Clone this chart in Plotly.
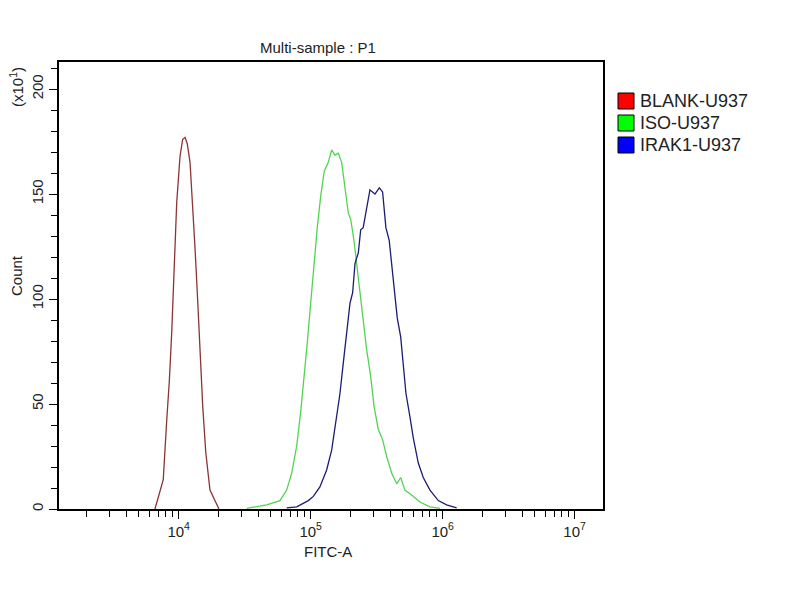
import numpy as np
import plotly.graph_objects as go

# histogram outlines: log10(FITC-A) and count (x10)
blank_log_fitc = [3.820, 3.883, 3.909, 3.929, 3.947, 3.959, 3.972, 3.985, 4.010, 4.030,
                  4.048, 4.065, 4.086, 4.106, 4.123, 4.141, 4.161, 4.182, 4.205, 4.237, 4.305]
blank_count = [0, 14, 42, 61, 84, 106, 127, 146, 168, 176,
               177, 174, 165, 146, 125, 103, 74, 49, 27, 9, 0]

iso_log_fitc = [4.515, 4.667, 4.767, 4.818, 4.856, 4.894, 4.924, 4.949, 4.974, 5.000,
                5.025, 5.050, 5.076, 5.103, 5.133, 5.159, 5.184, 5.209, 5.235, 5.260,
                5.285, 5.303, 5.328, 5.361, 5.394, 5.424, 5.455, 5.480, 5.512, 5.545,
                5.576, 5.614, 5.652, 5.682, 5.714, 5.765, 5.828, 5.904, 5.979]
iso_count = [0.3, 2, 4, 9, 17, 30, 46, 61, 79, 98,
             117, 134, 149, 161, 165, 171, 168.6, 169.5, 165, 153,
             141, 138, 128, 110, 91, 76, 63, 49, 38, 33,
             25, 17, 12, 15, 9, 6.7, 3.3, 1, 0.3]

irak1_log_fitc = [4.818, 4.894, 4.982, 5.020, 5.070, 5.121, 5.159, 5.192, 5.222, 5.247,
                  5.273, 5.298, 5.318, 5.336, 5.361, 5.379, 5.398, 5.424, 5.449, 5.487,
                  5.520, 5.545, 5.570, 5.595, 5.626, 5.656, 5.682, 5.702, 5.722, 5.752,
                  5.777, 5.815, 5.853, 5.904, 5.967, 6.030, 6.106]
irak1_count = [0.5, 1, 4, 6, 10.5, 18.6, 28, 41, 55, 69.5,
               85, 98, 103, 117, 122, 133, 134, 144, 152, 150,
               153, 151, 134, 128, 110, 91, 82, 69.5, 55, 44,
               34, 22, 15, 9, 4, 2, 0.5]

sample_names = ["BLANK-U937", "ISO-U937", "IRAK1-U937"]
line_colors = ["#8b3434", "#52d452", "#1c1c72"]
legend_colors = ["#ff0000", "#00ff00", "#0000ff"]

x_decades = [4, 5, 6, 7]

# plot box in screenshot pixels (page body adds an 8px offset)
L, R, T, B = 59, 603, 62, 509
OFF = 8


def px_x(px):
    return (px - L) / (R - L)


def px_y(py):
    return (B - py) / (B - T)


fig = go.Figure()

series = [(blank_log_fitc, blank_count), (iso_log_fitc, iso_count), (irak1_log_fitc, irak1_count)]
for (lx, cnt), name, col in zip(series, sample_names, line_colors):
    fig.add_trace(go.Scatter(x=10 ** np.array(lx), y=cnt, mode="lines", name=name,
                             line=dict(color=col, width=1.3), showlegend=False))

font = "Liberation Sans, Arial, sans-serif"

fig.update_layout(
    width=800, height=600,
    margin=dict(l=L - OFF, r=800 - R + OFF, t=T - OFF, b=600 - B + OFF),
    paper_bgcolor="white", plot_bgcolor="white",
    font=dict(family=font, size=15, color="#222"),
    showlegend=False,
)

minor_vals = [m * 10 ** d for d in [3, 4, 5, 6, 7] for m in range(2, 10)]

fig.update_xaxes(
    type="log", range=[3.093, 7.215],
    tickmode="array", tickvals=[10 ** d for d in x_decades],
    ticktext=[f"10<sup>{d}</sup>" for d in x_decades],
    ticks="outside", ticklen=8, tickwidth=1.2, tickcolor="black",
    minor=dict(tickmode="array", tickvals=minor_vals, ticks="outside", ticklen=6,
               tickwidth=1.2, tickcolor="black", showgrid=False),
    showline=True, mirror=True, linecolor="black", linewidth=1.5,
    showgrid=False, zeroline=False,
    tickfont=dict(size=15),
)

fig.update_yaxes(
    range=[0, 212.9],
    tickmode="array", tickvals=[0, 50, 100, 150, 200],
    ticks="outside", ticklen=8, tickwidth=1.2, tickcolor="black", tickangle=-90,
    minor=dict(tickmode="array", tickvals=list(range(10, 211, 10)), ticks="outside",
               ticklen=6, tickwidth=1.2, tickcolor="black", showgrid=False),
    showline=True, mirror=True, linecolor="black", linewidth=1.5,
    showgrid=False, zeroline=False,
    tickfont=dict(size=15),
)


def label(text, px, py, size=15, angle=0, xanchor="center"):
    fig.add_annotation(text=text, xref="paper", yref="paper", x=px_x(px), y=px_y(py),
                       xanchor=xanchor, yanchor="middle", textangle=angle,
                       showarrow=False, font=dict(size=size))


# title and axis labels
label("Multi-sample : P1", 318, 48)
label("FITC-A", 328, 551)
label("Count", 16, 276, angle=-90)
label("(x10<sup>1</sup>)", 17, 87, angle=-90)

# legend drawn as swatches
row_y = [101, 123, 145]
for name, col, cy in zip(sample_names, legend_colors, row_y):
    fig.add_shape(type="rect", xref="paper", yref="paper",
                  x0=px_x(618), x1=px_x(634), y0=px_y(cy + 8), y1=px_y(cy - 8),
                  fillcolor=col, line=dict(color="black", width=1))
    label(name, 638, cy, size=18, xanchor="left")

fig.write_html("out.html")
